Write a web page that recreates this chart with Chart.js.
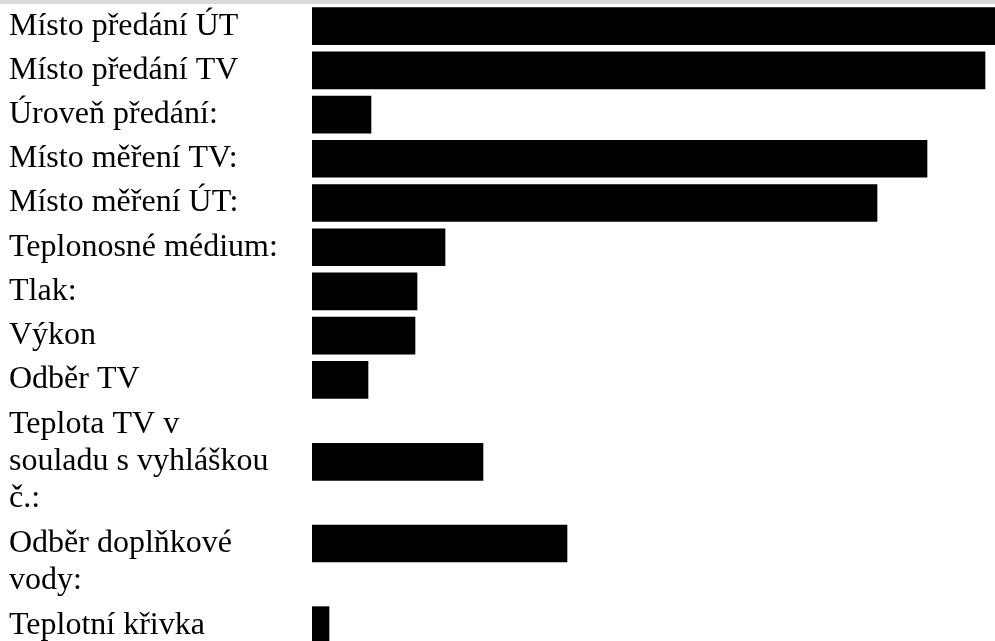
<!DOCTYPE html>
<html lang="cs">
<head>
<meta charset="utf-8">
<title>Předávací místo</title>
<script src="https://cdn.jsdelivr.net/npm/chart.js@4.4.1/dist/chart.umd.min.js"></script>
<style>
    html, body { margin: 0; padding: 0; background: #fff; overflow: hidden; }
    body { width: 995px; height: 641px; position: relative; }
    .pruh { position: absolute; left: 0; top: 0; width: 995px; height: 4px; background: #d9d9d9; }
    .box { position: absolute; left: 0; width: 995px; }
    #box-horni { top: 4px; height: 398px; }
    #box-dolni { top: 381px; height: 285px; }
</style>
</head>
<body>
<div class="pruh"></div>
<div class="box" id="box-horni"><canvas id="graf-horni"></canvas></div>
<div class="box" id="box-dolni"><canvas id="graf-dolni"></canvas></div>
<script>
// popisky řádků (víceřádkové jako v tabulce)
const polozky = [
    'Místo předání ÚT',
    'Místo předání TV',
    'Úroveň předání:',
    'Místo měření TV:',
    'Místo měření ÚT:',
    'Teplonosné médium:',
    'Tlak:',
    'Výkon',
    'Odběr TV',
    ['Teplota TV v', 'souladu s vyhláškou', 'č.:'],
    ['Odběr doplňkové', 'vody:'],
    'Teplotní křivka'
];
// délky začerněných polí
const hodnoty = [683, 673, 59, 615, 565, 133, 105, 103, 56, 171, 255, 17];
const osaMax = 683;
const pocetJednoradkovych = 9;

const pismo = { family: '"Liberation Serif", "Times New Roman", serif', size: 32, lineHeight: 1.16 };

function vytvorGraf(id, popisky, data, horniOdsazeni) {
    const ctx = document.getElementById(id).getContext('2d');
    return new Chart(ctx, {
        type: 'bar',
        data: {
            labels: popisky,
            datasets: [{
                data: data,
                backgroundColor: '#000',
                borderWidth: 0,
                barThickness: 37
            }]
        },
        options: {
            indexAxis: 'y',
            responsive: true,
            maintainAspectRatio: false,
            animation: false,
            devicePixelRatio: 1,
            layout: { padding: { left: 9, right: 0, top: horniOdsazeni, bottom: 0 } },
            plugins: { legend: { display: false }, tooltip: { enabled: false } },
            scales: {
                x: { display: false, min: 0, max: osaMax },
                y: {
                    grid: { display: false, drawTicks: false },
                    border: { display: false },
                    ticks: {
                        autoSkip: false,
                        crossAlign: 'far',
                        padding: 0,
                        color: '#000',
                        font: pismo,
                        callback: function (value) {
                            const p = this.getLabelForValue(value);
                            // dvouřádkový popisek sedí v tabulce níž než pole
                            return (Array.isArray(p) && p.length === 2) ? ['', ...p] : p;
                        }
                    },
                    afterFit: scale => {
                        scale.width = 303;
                        scale.paddingTop = 0;
                        scale.paddingBottom = 0;
                    }
                }
            }
        }
    });
}

document.addEventListener('DOMContentLoaded', function () {
    vytvorGraf('graf-horni', polozky.slice(0, pocetJednoradkovych), hodnoty.slice(0, pocetJednoradkovych), 0);
    vytvorGraf('graf-dolni', polozky.slice(pocetJednoradkovych), hodnoty.slice(pocetJednoradkovych), 40);
});
</script>
</body>
</html>
